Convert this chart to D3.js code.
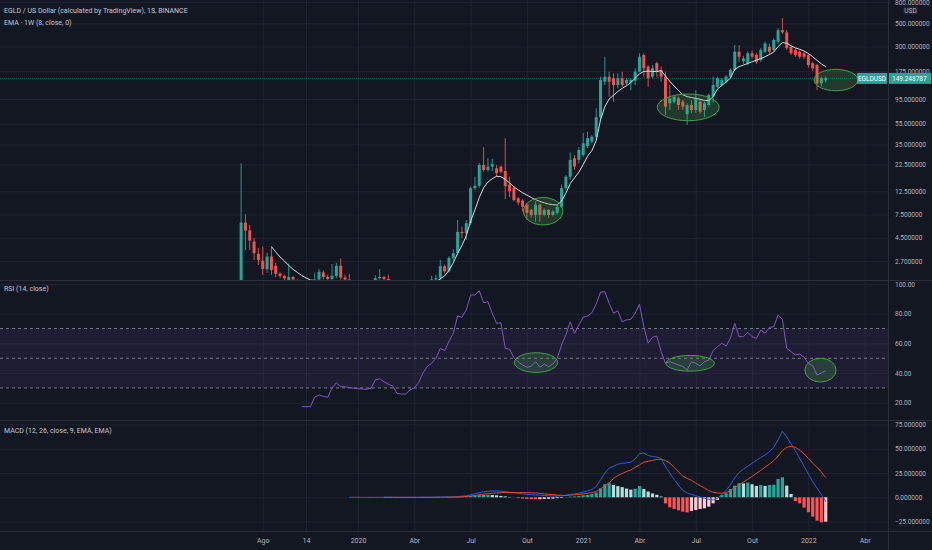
<!DOCTYPE html>
<html>
<head>
<meta charset="utf-8">
<script src="https://cdn.jsdelivr.net/npm/d3@7"></script>
<style>
  body { margin: 0; background: #131722; }
  svg { display: block; }
  text { font-family: Roboto, "Noto Sans", sans-serif; }
  .axis text { fill: #b2b5be; font-size: 6.5px; }
  .axis path, .axis line { display: none; }
  .grid line { stroke: #1f2331; }
  .grid path { display: none; }
  .title { fill: #c3c6ce; font-size: 7px; }
</style>
</head>
<body>
<div id="chart"></div>
<script>
// weekly bars, first one on 2019-07-01
const firstBar = "2019-07-01";

const opens = [
  1.5, 6.28, 5.3, 4.14, 3.16, 2.71, 2.26, 2.98, 2.43, 2.05,
  1.95, 1.75, 1.9, 1.75, 1.7, 1.6, 1.5, 1.7, 1.8, 2.1,
  1.9, 1.82, 1.95, 2.43, 1.88, 1.8, 1.72, 1.65, 1.55, 1.6,
  1.5, 1.7, 1.85, 1.9, 1.82, 1.75, 1.6, 1.35, 1.3, 1.4,
  1.5, 1.55, 1.65, 1.6, 1.72, 1.8, 1.85, 2.41, 2.15, 2.88,
  3.21, 5.13, 4.98, 6.2, 13.4, 14.1, 22.3, 20.0, 21.5, 20.7,
  21.5, 19.5, 14.5, 13.5, 10.7, 10.2, 9.3, 8.3, 7.45, 9.3,
  7.45, 8.3, 7.45, 7.8, 8.9, 13.4, 17.2, 25.8, 24.9, 27.7,
  33.8, 37.2, 41.5, 63.5, 138.7, 154.8, 149.5, 129.1, 149.6, 134,
  136, 142, 173, 249, 193, 155, 208, 179.5, 155, 86.4,
  89.5, 96.4, 89.5, 68, 83, 74.5, 89.5, 74.5, 83.2, 100,
  124, 129, 139, 155, 179.5, 268, 218, 208, 259, 250,
  223, 268, 299, 278, 334, 431, 410, 299, 278, 268,
  259, 249, 208, 200, 134, 143
];
const highs = [
  23.1, 7.55, 5.97, 4.49, 3.6, 3.71, 3.25, 3.71, 2.59, 2.1,
  2.0, 2.55, 1.95, 1.8, 1.75, 1.65, 1.75, 2.09, 2.26, 2.2,
  2.0, 2.53, 2.61, 2.85, 2.0, 2.04, 1.76, 1.7, 1.68, 1.65,
  1.75, 1.98, 2.27, 1.95, 2.0, 1.78, 1.65, 1.45, 1.45, 1.55,
  1.6, 1.7, 1.75, 1.78, 1.95, 2.0, 2.77, 2.5, 3.0, 3.5,
  6.65, 5.75, 6.65, 13.9, 17.2, 23.3, 32.9, 25.8, 25.5, 22.3,
  22.0, 40.1, 17.2, 14.0, 11.0, 10.5, 9.6, 8.5, 10.0, 9.6,
  8.6, 8.5, 8.3, 9.3, 14.5, 17.8, 29.4, 27.7, 33.0, 44.9,
  46.3, 43.0, 77.4, 154.8, 240, 172.6, 166.7, 166.7, 173, 150,
  150, 186, 259, 259, 200, 200, 215, 193, 173, 129,
  103, 100, 93, 86, 92, 115, 96, 90, 107, 155,
  155, 150, 160, 186, 310, 310, 245, 270, 275, 262,
  290, 335, 320, 360, 448, 560, 430, 310, 290, 275,
  265, 255, 215, 205, 155, 156
];
const lows = [
  1.4, 3.45, 3.45, 2.77, 2.48, 1.99, 2.08, 1.99, 1.9, 1.85,
  1.7, 1.7, 1.7, 1.6, 1.55, 1.45, 1.45, 1.65, 1.75, 1.8,
  1.75, 1.78, 1.85, 1.8, 1.75, 1.7, 1.6, 1.5, 1.5, 1.45,
  1.45, 1.65, 1.8, 1.75, 1.7, 1.55, 1.3, 1.2, 1.25, 1.35,
  1.4, 1.5, 1.55, 1.55, 1.65, 1.75, 1.8, 2.05, 2.1, 2.7,
  3.1, 4.46, 4.3, 5.97, 12.9, 13.5, 19.2, 19.2, 19.5, 17.2,
  18.5, 10.5, 11.0, 10.0, 9.2, 8.0, 6.65, 7.0, 6.4, 6.4,
  7.2, 7.0, 7.2, 7.5, 8.7, 13.0, 16.0, 20.0, 23.0, 26.7,
  32.3, 36.0, 38.6, 59.8, 129, 99.8, 89.5, 120, 124, 128,
  115, 129, 170, 155, 124, 150, 155, 139, 66.8, 74.5,
  86, 74.5, 74.5, 53.6, 70, 69.7, 68, 64, 80, 88,
  120, 125, 134, 150, 175, 215, 205, 200, 230, 205,
  215, 260, 255, 270, 320, 395, 280, 250, 240, 230,
  228, 190, 175, 115.6, 125, 136
];
const closes = [
  6.28, 5.27, 4.24, 3.21, 2.77, 2.27, 2.98, 2.22, 2.04, 1.95,
  1.85, 1.9, 1.8, 1.7, 1.6, 1.5, 1.7, 1.8, 2.14, 1.9,
  1.82, 1.95, 2.43, 1.88, 1.8, 1.72, 1.65, 1.55, 1.6, 1.5,
  1.7, 1.85, 1.9, 1.82, 1.75, 1.6, 1.35, 1.3, 1.4, 1.5,
  1.55, 1.65, 1.6, 1.72, 1.8, 1.85, 2.41, 2.15, 2.88, 3.21,
  5.13, 4.98, 6.2, 13.4, 14.1, 22.3, 20.0, 21.5, 22.8, 18.6,
  19.2, 14.0, 12.5, 10.3, 9.75, 8.9, 7.8, 7.45, 9.3, 7.45,
  8.3, 7.45, 8.0, 8.9, 13.4, 17.2, 24.9, 21.5, 31.0, 35.9,
  40.1, 41.5, 63.5, 143.9, 154.8, 138.7, 129.1, 149.5, 129, 144,
  144, 173, 240, 186, 149.6, 186, 173, 155, 80.2, 96.4,
  99.8, 83.2, 80.2, 83, 74.5, 96.4, 71.8, 86.4, 103.6, 129,
  150, 144, 155, 179.5, 268, 240, 231, 259, 240, 215,
  278, 322, 268, 347, 431, 410, 289, 259, 249, 240,
  240, 200, 186, 134, 149.6, 149.248787
];

// EMA 8 from bar 7
const emaStart = 7;
const ema8 = [
  3.71, 3.3, 2.95, 2.7, 2.45, 2.25, 2.1, 1.97, 1.86, 1.78,
  1.76, 1.75, 1.74, 1.72, 1.72, 1.73, 1.73, 1.72, 1.7, 1.66,
  1.62, 1.58, 1.56, 1.58, 1.6, 1.64, 1.66, 1.66, 1.62, 1.55,
  1.48, 1.42, 1.4, 1.42, 1.46, 1.52, 1.58, 1.64, 1.72, 1.82,
  1.95, 2.2, 2.6, 3.2, 3.8, 4.7, 6.5, 8.3, 10.9, 13.5,
  15.3, 16.5, 17.4, 17.2, 16.3, 15.0, 13.8, 12.9, 12.1, 11.5,
  10.9, 10.4, 10.0, 9.7, 9.45, 9.3, 9.25, 10.1, 12.0, 14.8,
  16.8, 19.0, 22.5, 27.0, 30.5, 38, 60, 80, 95, 103,
  112, 120, 127, 136, 150, 165, 174, 175, 174, 173,
  177, 157, 140, 126, 115, 104, 100, 98, 96.5, 94,
  92, 91.5, 100, 118, 128, 138, 150, 182, 193, 200,
  207, 215, 222, 230, 240, 252, 266, 300, 328, 323,
  305, 292, 283, 272, 258, 240, 222, 205, 193
];

// RSI 14 from bar 14
const rsiStart = 14;
const rsi14 = [
  17.4, 17.4, 17.4, 23.7, 25.3, 24.3, 23.7, 30, 33.5, 30.8,
  30.8, 30.3, 29.8, 29.5, 29.3, 29.1, 29.8, 35.5, 36.2, 34.2,
  32.5, 31.3, 26.4, 25.9, 25.9, 28.6, 30.0, 33.5, 40, 44.5,
  46.6, 50, 56.7, 55.1, 61.2, 66.8, 78.5, 77.6, 82.5, 92.6,
  92.6, 95.5, 87.4, 88.1, 80.3, 73.5, 73.9, 56.7, 56.0, 50.5,
  47.5, 45.5, 43.9, 44.5, 47.7, 43.9, 46.1, 44.3, 46.1, 50,
  58.9, 65.7, 74.6, 66.8, 72.4, 77.6, 78.5, 80.7, 86.5, 94.6,
  94.8, 87.0, 80.3, 82.0, 74.6, 75.8, 76.2, 80.3, 86.5, 71.2,
  60.1, 64.1, 65.0, 54.4, 46.6, 47.7, 46.6, 45.5, 44.5, 42.1,
  47.7, 46.6, 44.8, 47.7, 48.8, 55.1, 57.8, 60.1, 58.2, 63.4,
  73.5, 64.5, 64.5, 67.5, 64.5, 63.4, 69.0, 66.8, 70.8, 71.2,
  79.1, 76.2, 56.7, 54.4, 52.2, 52.9, 50.6, 46.6, 44.8, 38.7,
  40.0, 41.6
];

// MACD line from bar 25, signal and histogram from bar 33
const macdStart = 25;
const macdLine = [
  0.1, 0.05, 0.0, -0.05, -0.05, -0.05, 0.0, 0.0, 0.0, -0.02,
  -0.05, -0.08, -0.1, -0.1, -0.1, -0.08, -0.05, 0.0, 0.05, 0.08,
  0.12, 0.18, 0.22, 0.3, 0.45, 0.8, 1.1, 1.6, 2.6, 3.6,
  4.8, 5.6, 6.2, 6.5, 6.5, 6.3, 5.8, 5.3, 4.7, 4.1,
  3.6, 3.1, 2.7, 2.4, 2.1, 1.8, 1.6, 1.4, 1.3, 1.5,
  2.1, 2.9, 3.5, 4.3, 5.4, 6.6, 8.2, 11, 18, 25,
  30, 32, 34, 35, 35.5, 36, 39.5, 45, 45.5, 43,
  42, 41.5, 40, 31.5, 25, 18.5, 12.5, 7, 4.5, 3.0,
  1.5, 0.2, -1.0, -2.0, -2.7, -1.0, 2.5, 7.0, 13.0, 20.0,
  25.5, 29.0, 32.0, 35.0, 38.0, 41.0, 43.5, 47.0, 51.5, 59.0,
  68.0, 62.0, 55.0, 48.0, 40.0, 32.0, 24.0, 16.0, 9.5, 3.0,
  -4.5
];
const signalStart = 33;
const signalLine = [
  0, 0, -0.01, -0.03, -0.05, -0.06, -0.07, -0.07, -0.07, -0.05,
  -0.03, 0.0, 0.03, 0.13, 0.17, 0.2, 0.25, 0.4, 0.5, 0.8,
  1.3, 1.8, 2.6, 3.2, 3.7, 4.2, 4.5, 4.8, 4.9, 4.9,
  4.85, 4.9, 4.9, 4.7, 4.6, 4.4, 4.0, 3.5, 3.1, 2.7,
  2.2, 2.1, 1.9, 2.3, 2.6, 3.0, 3.4, 4.1, 4.9, 6.0,
  8.7, 11.5, 15.0, 19.3, 22.5, 24.5, 26.5, 28.1, 30.7, 33.4,
  36.2, 37.0, 38.0, 38.9, 39.2, 37.8, 35.3, 30.8, 26.2, 21.9,
  19.5, 17.4, 14.6, 12.0, 9.4, 6.9, 5.1, 4.4, 4.2, 4.8,
  7.0, 9.8, 12.6, 15.8, 18.5, 21.5, 24.7, 27.8, 31.0, 34.0,
  37.6, 42.5, 48.0, 51.5, 52.2, 51.5, 48.5, 44.5, 40.0, 35.0,
  31.0, 26.0, 20.3
];
const histogram = [
  0, 0, 0, 0, 0, 0, 0, 0, 0, 0,
  0, 0, 0, 0.05, 0.05, 0.1, 0.2, 0.4, 0.6, 0.8,
  1.3, 1.8, 2.2, 2.4, 2.5, 2.3, 2.0, 1.4, 0.9, 0.4,
  -0.1, -0.8, -1.3, -1.6, -1.9, -2.0, -1.9, -1.7, -1.5, -1.3,
  -0.9, -0.6, 0.2, 0.6, 0.9, 1.3, 2.0, 2.5, 3.3, 5.0,
  9.3, 13.5, 15.0, 12.7, 11.5, 10.5, 9.0, 7.9, 8.8, 11.6,
  8.5, 6.0, 4.0, 2.6, 0.8, -6.3, -10.3, -12.0, -13.4, -14.8,
  -15.5, -14.1, -13.1, -12.0, -11.3, -9.6, -6.2, -2.7, 2.4, 4.1,
  8.6, 12.0, 14.4, 14.2, 15.1, 13.4, 11.7, 12.7, 11.7, 12.7,
  12.9, 18.9, 20.6, 12.0, 3.4, -3.8, -6.2, -10.6, -15.4, -19.9,
  -24.0, -25.7, -25.0
];

// axis ticks
const priceTicks = [800, 500, 300, 175, 95, 55, 35, 22.5, 12.5, 7.5, 4.5, 2.7];
const rsiTicks = [100, 80, 60, 40, 20];
const rsiBands = [70, 50, 30];
const macdTicks = [75, 50, 25, 0, -25];
const timeTicks = ["2019-08-05", "2019-10-14", "2020-01-06", "2020-04-06", "2020-07-06", "2020-10-05",
  "2021-01-04", "2021-04-05", "2021-07-05", "2021-10-04", "2022-01-03", "2022-04-04"];
const timeLabels = ["Ago", "14", "2020", "Abr", "Jul", "Out", "2021", "Abr", "Jul", "Out", "2022", "Abr"];

// drawn ellipses: [from bar, to bar, low value, high value]
const priceMarkers = [[65.2, 74.3, 5.97, 10.9], [96.1, 110.4, 58.9, 105.9], [132.3, 142.4, 113.8, 182]];
const rsiMarkers = [[63.1, 73.1, 40.5, 53.7], [98.1, 109.3, 41.3, 51.9], [130.2, 137.4, 34.0, 50.0]];

let w = 932;
let h = 550;
let plotRight = 888;
let panes = { main: [0, 280], rsi: [280, 420], macd: [420, 531] };
let up = "#26a69a";
let down = "#ef5350";
let WEEK = 7 * 24 * 3600 * 1000;
let parse = d3.utcParse("%Y-%m-%d");
let t0 = parse(firstBar).getTime();

function barDate(i) {
  return new Date(t0 + i * WEEK);
}

let x = d3.scaleUtc().domain([barDate(0), barDate(135)]).range([241.1, 825.7]);
let yPrice = d3.scaleLog().domain([1.8, 835]).range([279.5, 0]);
let yRsi = d3.scaleLinear().domain([0, 100]).range([432.5, 284]);
let yMacd = d3.scaleLinear().domain([-25, 75]).range([521.6, 424.4]);

function bx(i) {
  return x(barDate(i));
}

let svg = d3.select("#chart").append("svg").attr("width", w).attr("height", h);
svg.append("rect").attr("width", w).attr("height", h).attr("fill", "#131722");

let defs = svg.append("defs");
Object.keys(panes).forEach(function (k) {
  defs.append("clipPath").attr("id", "clip-" + k)
    .append("rect")
    .attr("x", 0).attr("y", panes[k][0])
    .attr("width", plotRight).attr("height", panes[k][1] - panes[k][0]);
});

// vertical grid through all panes
svg.append("g")
  .attr("class", "grid")
  .attr("transform", `translate(0,${panes.macd[1]})`)
  .call(d3.axisBottom(x).tickValues(timeTicks.map(parse)).tickSize(-panes.macd[1]).tickFormat(""));

// horizontal grids
[[yPrice, priceTicks, "main"], [yRsi, rsiTicks, "rsi"], [yMacd, macdTicks, "macd"]].forEach(function (g) {
  svg.append("g")
    .attr("class", "grid")
    .attr("clip-path", `url(#clip-${g[2]})`)
    .call(d3.axisLeft(g[0]).tickValues(g[1]).tickSize(-plotRight).tickFormat(""));
});

// ---- main pane
let main = svg.append("g").attr("clip-path", "url(#clip-main)");

let last = closes[closes.length - 1];
main.append("line")
  .attr("x1", 0).attr("x2", plotRight)
  .attr("y1", yPrice(last)).attr("y2", yPrice(last))
  .attr("stroke", up).attr("stroke-opacity", 0.45)
  .attr("stroke-dasharray", "1,1");

let candle = main.append("g").selectAll("g")
  .data(d3.range(closes.length))
  .enter()
  .append("g")
  .attr("fill", function (i) { return closes[i] >= opens[i] ? up : down; })
  .attr("stroke", function (i) { return closes[i] >= opens[i] ? up : down; });

candle.append("line")
  .attr("x1", function (i) { return bx(i); })
  .attr("x2", function (i) { return bx(i); })
  .attr("y1", function (i) { return yPrice(highs[i]); })
  .attr("y2", function (i) { return yPrice(lows[i]); })
  .attr("stroke-width", 0.9);

candle.append("rect")
  .attr("stroke", "none")
  .attr("x", function (i) { return bx(i) - 1.5; })
  .attr("width", 3)
  .attr("y", function (i) { return Math.min(yPrice(opens[i]), yPrice(closes[i])); })
  .attr("height", function (i) { return Math.max(1, Math.abs(yPrice(opens[i]) - yPrice(closes[i]))); });

main.append("path")
  .datum(ema8)
  .attr("fill", "none")
  .attr("stroke", "#dadce2")
  .attr("stroke-width", 1)
  .attr("d", d3.line()
    .x(function (d, k) { return bx(k + emaStart); })
    .y(function (d) { return yPrice(d); }));

function drawMarkers(g, list, y) {
  g.append("g").selectAll("ellipse")
    .data(list)
    .enter()
    .append("ellipse")
    .attr("cx", function (d) { return (bx(d[0]) + bx(d[1])) / 2; })
    .attr("rx", function (d) { return (bx(d[1]) - bx(d[0])) / 2; })
    .attr("cy", function (d) { return (y(d[2]) + y(d[3])) / 2; })
    .attr("ry", function (d) { return Math.abs(y(d[2]) - y(d[3])) / 2; })
    .attr("fill", "rgba(76,175,80,0.24)")
    .attr("stroke", "#43a047")
    .attr("stroke-width", 1);
}
drawMarkers(main, priceMarkers, yPrice);

// ---- RSI pane
let rsi = svg.append("g").attr("clip-path", "url(#clip-rsi)");
rsi.append("rect")
  .attr("x", 0).attr("width", plotRight)
  .attr("y", yRsi(rsiBands[0]))
  .attr("height", yRsi(rsiBands[2]) - yRsi(rsiBands[0]))
  .attr("fill", "rgba(126,87,194,0.1)");
rsi.append("g").selectAll("line")
  .data(rsiBands)
  .enter()
  .append("line")
  .attr("x1", 0).attr("x2", plotRight)
  .attr("y1", function (d) { return yRsi(d); })
  .attr("y2", function (d) { return yRsi(d); })
  .attr("stroke", "#787b86")
  .attr("stroke-dasharray", "3,3");
rsi.append("path")
  .datum(rsi14)
  .attr("fill", "none")
  .attr("stroke", "#7e57c2")
  .attr("stroke-width", 1)
  .attr("d", d3.line()
    .x(function (d, k) { return bx(k + rsiStart); })
    .y(function (d) { return yRsi(d); }));
drawMarkers(rsi, rsiMarkers, yRsi);

// ---- MACD pane
let macd = svg.append("g").attr("clip-path", "url(#clip-macd)");
macd.append("g").selectAll("rect")
  .data(histogram)
  .enter()
  .append("rect")
  .attr("x", function (d, k) { return bx(k + signalStart) - 1.6; })
  .attr("width", 3.2)
  .attr("y", function (d) { return Math.min(yMacd(d), yMacd(0)); })
  .attr("height", function (d) { return Math.abs(yMacd(d) - yMacd(0)); })
  .attr("fill", function (d, k) {
    let prev = k > 0 ? histogram[k - 1] : 0;
    if (d >= 0) return d > prev ? "#26a69a" : "#b2dfdb";
    return d < prev ? "#ff5252" : "#ffcdd2";
  });
macd.append("path")
  .datum(macdLine)
  .attr("fill", "none")
  .attr("stroke", "#2a5bdc")
  .attr("d", d3.line()
    .x(function (d, k) { return bx(k + macdStart); })
    .y(function (d) { return yMacd(d); }));
macd.append("path")
  .datum(signalLine)
  .attr("fill", "none")
  .attr("stroke", "#d84b36")
  .attr("d", d3.line()
    .x(function (d, k) { return bx(k + signalStart); })
    .y(function (d) { return yMacd(d); }));

// ---- separators
svg.append("g").selectAll("line")
  .data([panes.main[1], panes.rsi[1], panes.macd[1]])
  .enter()
  .append("line")
  .attr("x1", 0).attr("x2", w)
  .attr("y1", function (d) { return d + 0.5; })
  .attr("y2", function (d) { return d + 0.5; })
  .attr("stroke", "#2a2e39");
svg.append("line")
  .attr("x1", plotRight + 0.5).attr("x2", plotRight + 0.5)
  .attr("y1", 0).attr("y2", h)
  .attr("stroke", "#2a2e39");

// ---- axes
svg.append("g")
  .attr("class", "axis")
  .attr("transform", `translate(${plotRight},0)`)
  .call(d3.axisRight(yPrice).tickValues(priceTicks).tickFormat(d3.format(".6f")).tickSize(0).tickPadding(7));
svg.append("g")
  .attr("class", "axis")
  .attr("transform", `translate(${plotRight},0)`)
  .call(d3.axisRight(yRsi).tickValues(rsiTicks).tickFormat(d3.format(".2f")).tickSize(0).tickPadding(7));
svg.append("g")
  .attr("class", "axis")
  .attr("transform", `translate(${plotRight},0)`)
  .call(d3.axisRight(yMacd).tickValues(macdTicks).tickFormat(d3.format(".6f")).tickSize(0).tickPadding(7));
svg.append("g")
  .attr("class", "axis")
  .attr("transform", `translate(0,${panes.macd[1]})`)
  .call(d3.axisBottom(x).tickValues(timeTicks.map(parse)).tickFormat(function (d, i) { return timeLabels[i]; })
    .tickSize(0).tickPadding(7))
  .selectAll("text").style("font-size", "7px");

// currency box
svg.append("rect").attr("x", 903).attr("y", 6.5).attr("width", 15).attr("height", 8).attr("rx", 1.5).attr("fill", "#1e222d");
svg.append("text").attr("x", 910.5).attr("y", 12.8).attr("text-anchor", "middle")
  .attr("fill", "#b2b5be").style("font-size", "6.5px").text("USD");

// last price tags
let ly = yPrice(last);
svg.append("rect").attr("x", plotRight + 1).attr("y", ly - 5.5).attr("width", 42).attr("height", 11).attr("fill", up);
svg.append("text").attr("x", plotRight + 4).attr("y", ly + 2.3)
  .attr("fill", "#fff").style("font-size", "6.5px").text(d3.format(".6f")(last));
svg.append("rect").attr("x", plotRight - 31).attr("y", ly - 5.5).attr("width", 30).attr("height", 11).attr("fill", up);
svg.append("text").attr("x", plotRight - 16).attr("y", ly + 2.3).attr("text-anchor", "middle")
  .attr("fill", "#fff").style("font-size", "6.5px").text("EGLDUSD");

// ---- titles
svg.append("text").attr("class", "title").attr("x", 4).attr("y", 13)
  .text("EGLD / US Dollar (calculated by TradingView), 1S, BINANCE");
svg.append("text").attr("class", "title").attr("x", 4).attr("y", 25)
  .text("EMA · 1W (8, close, 0)");
svg.append("text").attr("class", "title").attr("x", 4).attr("y", 291)
  .text("RSI (14, close)");
svg.append("text").attr("class", "title").attr("x", 4).attr("y", 433)
  .text("MACD (12, 26, close, 9, EMA, EMA)");
</script>
</body>
</html>
